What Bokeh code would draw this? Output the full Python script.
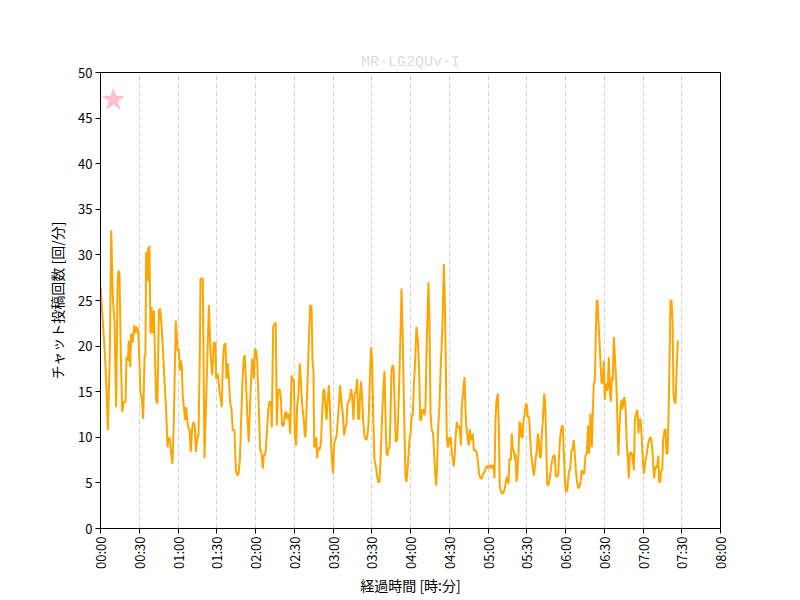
import math
from bokeh.plotting import figure
from bokeh.models import FixedTicker, Range1d
from bokeh.embed import file_html
from bokeh.resources import INLINE

# elapsed minutes and chat posts per minute
times = [
    0.0, 3.4, 4.4, 5.7, 7.2, 8.3, 9.5, 10.8, 12.1, 13.2, 13.9, 14.7, 15.7, 16.8, 18.1, 19.4,
    20.1, 21.2, 21.9, 23.0, 23.7, 25.0, 26.1, 27.1, 28.1, 29.2, 29.9, 31.0, 32.0, 33.0, 34.1,
    34.8, 35.3, 36.4, 36.9, 37.4, 37.9, 38.7, 39.5, 40.0, 41.3, 42.1, 43.1, 44.1, 45.2, 46.2,
    47.2, 48.5, 49.8, 50.8, 51.9, 52.6, 53.7, 54.7, 55.7, 56.8, 57.5, 58.3, 59.1, 59.6, 60.6,
    61.4, 62.2, 63.0, 63.7, 64.8, 65.5, 66.3, 67.1, 67.9, 68.9, 69.9, 71.0, 72.0, 73.0, 73.8,
    74.8, 75.9, 76.9,
    77.4, 79.2, 80.5, 82.1, 83.9, 85.2, 86.5, 87.2, 87.7, 89.0, 89.5, 90.3, 91.1, 92.1, 92.9,
    93.9, 94.7, 95.7, 96.8, 97.5, 98.6, 99.4, 100.4, 101.4, 102.4, 103.7, 104.8, 105.8, 106.8,
    107.9, 108.9, 109.9, 111.0, 111.7, 112.8, 113.8, 114.8, 116.1, 117.4, 117.9, 118.7, 119.5,
    120.5, 121.3, 122.6, 123.6, 124.6, 125.7, 126.4, 127.7, 129.0, 129.8, 130.8, 131.9, 132.6,
    133.7, 134.7, 135.7, 136.5, 137.5, 138.6, 139.6, 140.6, 141.9, 142.9, 143.7, 144.5, 145.3,
    146.1, 146.8, 147.9, 148.6, 149.7, 150.4, 151.5, 152.2, 153.3, 154.3, 155.1, 156.1, 157.4,
    158.2,
    158.7, 160.0, 161.3, 162.3, 163.4, 164.1, 164.9, 165.4, 166.2, 167.0, 167.7, 168.5, 169.3,
    170.1, 170.8, 171.6, 172.6, 173.4, 174.2, 175.0, 175.7, 176.8, 177.5, 178.6, 179.6, 180.1,
    180.9, 181.9, 183.0, 183.7, 184.8, 185.5, 186.6, 187.6, 188.6, 189.7, 190.4, 191.2, 192.3,
    193.0, 194.1, 194.8, 195.9, 196.6, 197.7, 198.7, 199.5, 200.3, 201.0, 201.8, 202.6, 203.3,
    204.4, 205.4, 206.4, 207.5, 208.5, 209.5, 210.3, 211.1, 212.1, 213.2, 214.2, 215.0, 216.0,
    217.0, 218.1, 219.1, 219.9, 220.6, 221.4, 222.2, 223.0, 223.8, 224.5, 225.3, 226.1, 226.9,
    227.6, 228.6, 229.7, 230.7, 231.7, 232.5, 233.0, 233.8, 234.6, 235.3, 236.1, 236.9, 237.7,
    238.5, 239.2,
    240.0, 240.8, 241.8, 242.6, 243.6, 244.6, 245.7, 246.7, 247.5, 248.3, 249.0, 250.1, 250.8,
    251.6, 252.4, 253.2, 253.9, 254.7, 255.5, 256.5, 257.5, 258.3, 259.1, 259.9, 260.6, 261.4,
    262.4, 263.2, 264.3, 265.0, 265.8, 266.6, 267.4, 268.1, 268.9, 269.7, 270.4, 271.2, 272.0,
    272.8, 273.5, 274.3, 275.1, 275.9, 276.6, 277.4, 278.2, 279.0, 279.7, 280.8, 281.8, 282.6,
    283.3, 284.4, 285.2, 285.9, 286.7, 287.5, 288.2, 289.0, 290.1, 291.1, 292.1, 293.1, 294.2,
    295.2, 296.2, 297.3, 298.3, 299.3, 300.1, 300.9, 301.9, 302.7, 303.5, 304.2, 305.0, 305.8,
    306.6, 307.6, 308.4, 309.1, 310.2, 311.2, 312.2, 313.3, 314.0, 314.8, 315.9, 316.6, 317.7,
    318.4, 319.2, 320.0, 320.8,
    321.3, 322.1, 322.8, 323.6, 324.4, 325.2, 325.9, 326.7, 327.5, 328.3, 329.3, 330.1, 330.8,
    331.9, 332.6, 333.4, 334.5, 335.5, 336.3, 337.0, 337.8, 338.6, 339.4, 340.1, 340.9, 341.7,
    342.5, 343.5, 344.3, 345.0, 345.8, 346.6, 347.6, 348.6, 349.7, 350.7, 351.7, 352.5, 353.3,
    354.3, 355.1, 355.9, 356.9, 357.9, 358.7, 359.7, 360.5, 361.3, 362.0, 362.8, 363.6, 364.6,
    365.4, 366.4, 367.2, 368.0, 368.8, 369.8, 370.8, 371.9, 372.6, 373.4, 374.4, 375.5, 376.5,
    377.5, 378.3, 379.3, 380.4, 381.1, 381.9, 382.7, 383.5, 384.2, 384.8, 385.5, 386.3, 387.1,
    387.9, 388.9, 389.7, 390.4, 391.2, 392.0, 392.8, 393.5, 394.3, 395.1, 395.9, 396.6, 397.4,
    399.5, 400.3, 401.0, 401.8, 402.6, 403.4, 404.1, 404.9, 405.7, 406.5, 407.2, 408.3, 409.0,
    409.8, 410.6, 411.4, 412.1, 412.9, 413.7, 414.7, 415.7, 416.5, 417.3, 418.1, 418.8, 419.6,
    420.6, 421.4, 422.2, 423.0, 424.0, 424.8, 425.5, 426.3, 427.1, 427.9, 428.7, 429.4, 430.2,
    431.0, 431.8, 432.5, 433.3, 434.1, 434.9, 435.6, 436.7, 437.4, 438.2, 439.0, 439.8, 440.6,
    441.3, 442.1, 442.9, 443.6, 444.4, 445.2, 446.0, 447.0,
]
counts = [
    26.5, 19.2, 16.2, 10.8, 19.2, 32.7, 25.4, 22.8, 13.3, 26.5, 28.3, 27.9, 19.2, 12.8, 13.9, 13.9,
    18.8, 18.4, 20.6, 17.7, 21.4, 20.4, 22.3, 21.4, 22.1, 21.7, 19.2, 14.8, 14.4, 12.0, 18.8,
    19.2, 30.3, 27.2, 30.8, 27.0, 31.0, 21.4, 24.3, 21.4, 23.9, 19.2, 14.1, 13.7, 23.9, 24.1,
    22.4, 19.2, 15.5, 13.0, 8.9, 10.0, 9.9, 8.2, 7.1, 11.9, 17.3, 22.8, 21.0, 19.5, 19.7,
    17.3, 18.4, 17.7, 14.4, 13.0, 11.9, 13.3, 11.9, 11.1, 10.8, 8.4, 11.1, 11.7, 11.1, 8.4,
    9.7, 10.4, 19.2,
    27.4, 27.4, 7.7, 15.5, 24.5, 19.2, 16.8, 18.4, 20.4, 20.3, 16.4, 17.0, 16.6, 15.1, 14.4,
    13.3, 18.1, 20.1, 20.3, 16.4, 18.1, 16.4, 13.7, 13.1, 10.8, 10.8, 6.4, 5.8, 6.0,
    7.5, 11.9, 16.2, 18.8, 19.0, 15.5, 11.9, 9.5, 14.8, 18.6, 18.4, 16.4, 19.7,
    19.5, 18.4, 13.0, 8.6, 8.4, 6.6, 8.0, 8.2, 10.8, 13.0, 13.9, 13.9, 11.1,
    22.1, 22.4, 22.6, 11.3, 15.1, 15.3, 14.4, 11.3, 11.3, 12.6, 12.8, 12.0, 12.6,
    12.2, 10.4, 16.8, 16.2, 16.4, 10.4, 9.1, 13.3, 14.8, 18.1, 16.2, 13.7, 11.9,
    10.2,
    10.0, 14.8, 20.6, 24.5, 24.3, 18.4, 17.3, 8.9, 9.1, 10.0, 7.7, 8.9, 8.6,
    8.9, 9.7, 12.6, 15.3, 15.1, 13.3, 11.9, 13.7, 15.7, 13.7, 8.9, 6.8, 6.0,
    9.3, 9.7, 10.4, 11.9, 14.1, 15.7, 13.7, 12.6, 10.2, 11.1, 11.5, 13.7, 13.9,
    14.4, 15.3, 14.4, 11.9, 14.8, 14.8, 16.4, 12.0, 12.0, 14.8, 16.1, 14.1, 11.9,
    10.2, 9.7, 9.9, 11.5, 16.2, 19.9, 18.4, 12.6, 7.5, 6.8, 5.7, 5.1, 5.1,
    8.2, 12.6, 15.5, 17.3, 12.6, 8.2, 8.0, 8.8, 8.9, 12.2, 17.3, 17.9, 17.7,
    14.4, 9.5, 9.7, 13.3, 18.4, 22.8, 26.3, 22.1, 16.2, 11.1, 5.7, 5.1, 6.4,
    8.2, 9.7,
    10.4, 12.2, 12.6, 15.5, 18.4, 22.1, 20.6, 17.3, 11.9, 11.9, 13.0, 13.0, 12.4,
    13.3, 19.2, 23.5, 27.0, 22.8, 12.6, 10.8, 10.4, 8.2, 6.0, 4.7, 6.8, 11.1,
    13.3, 17.0, 20.6, 23.9, 29.0, 24.6, 17.3, 10.0, 8.9, 10.0, 9.3, 10.0, 8.2,
    7.5, 6.8, 8.2, 10.4, 11.7, 11.1, 11.3, 10.9, 9.1, 13.3, 15.1, 16.6, 13.0,
    11.1, 9.7, 9.1, 10.9, 9.7, 10.0, 10.4, 8.6, 8.6, 8.4, 7.5, 6.0, 5.5,
    5.5, 6.0, 6.2, 6.6, 6.9, 6.6, 6.9, 6.9, 6.6, 6.9, 6.9, 5.5, 11.9,
    14.1, 14.8, 11.1, 4.6, 4.0, 3.8, 4.0, 4.6, 5.3, 5.7, 4.9, 7.7, 7.5,
    10.4, 8.6, 8.6, 7.5,
    8.2, 5.1, 6.0, 8.2, 11.7, 11.5, 10.0, 10.0, 11.9, 12.4, 13.7, 13.5, 12.2,
    12.2, 10.0, 8.2, 6.8, 5.8, 6.8, 7.8, 8.6, 10.4, 9.7, 7.8, 7.8, 10.4,
    11.9, 14.8, 13.7, 10.0, 4.9, 4.7, 5.3, 6.4, 7.5, 8.0, 8.0, 5.7, 5.7,
    5.8, 8.2, 10.0, 11.1, 11.3, 8.2, 4.9, 4.0, 4.2, 5.3, 6.4, 6.4, 8.6,
    8.6, 9.7, 8.2, 6.4, 5.3, 4.4, 4.6, 5.3, 6.4, 6.0, 6.0, 8.0, 8.2,
    11.3, 8.2, 12.6, 8.9, 12.6, 15.9, 16.2, 21.4, 25.0, 25.0, 22.8, 20.6, 18.1,
    15.9, 16.2, 18.4, 14.1, 15.9, 15.1, 15.5, 18.8, 15.1, 13.9, 16.6, 16.2, 21.0,
    15.5, 11.1, 8.0, 11.1, 13.3, 14.1, 13.1, 14.1, 14.4, 13.3, 10.0, 7.5, 5.5,
    8.2, 8.4, 8.2, 7.5, 6.4, 11.9, 12.6, 13.0, 10.4, 11.9, 12.0, 10.4, 8.2,
    6.0, 6.8, 7.7, 8.2, 9.3, 9.7, 10.0, 9.9, 8.9, 7.1, 5.5, 6.8, 6.6,
    6.8, 8.0, 5.1, 5.1, 6.4, 6.4, 9.7, 10.8, 10.9, 8.2, 8.2, 12.6, 19.2,
    25.0, 25.0, 22.8, 14.8, 13.9, 13.7, 17.3, 20.6,
]

tick_minutes = [0, 30, 60, 90, 120, 150, 180, 210, 240, 270, 300, 330, 360, 390, 420, 450, 480]
tick_labels = ["00:00", "00:30", "01:00", "01:30", "02:00", "02:30", "03:00", "03:30", "04:00",
               "04:30", "05:00", "05:30", "06:00", "06:30", "07:00", "07:30", "08:00"]
y_ticks = [0, 5, 10, 15, 20, 25, 30, 35, 40, 45, 50]

marker_time = [10]
marker_value = [47]

title_text = "MR-LG2QUv-I"
x_label = "経過時間 [時:分]"
y_label = "チャット投稿回数 [回/分]"

FONT = "Noto Sans CJK JP"

p = figure(width=800, height=600, output_backend="svg", toolbar_location=None,
           x_range=Range1d(0, 480), y_range=Range1d(0, 50),
           min_border_left=100, min_border_right=80, min_border_top=72, min_border_bottom=72)

p.title.text = title_text
p.title.align = "center"
p.title.text_color = "#dcdcdc"
p.title.text_font = "Liberation Mono"
p.title.text_font_size = "15px"
p.title.text_font_style = "normal"
p.title.standoff = 4

p.outline_line_color = "black"
p.outline_line_width = 1
p.background_fill_color = "white"
p.border_fill_color = "white"

xt = FixedTicker(ticks=tick_minutes)
p.xaxis.ticker = xt
p.xaxis.major_label_overrides = {m: lab for m, lab in zip(tick_minutes, tick_labels)}
p.xaxis.major_label_orientation = math.pi / 2
p.yaxis.ticker = FixedTicker(ticks=y_ticks)

for ax in (p.xaxis, p.yaxis):
    ax.axis_line_color = "black"
    ax.major_tick_line_color = "black"
    ax.major_tick_in = 0
    ax.major_tick_out = 5
    ax.minor_tick_line_color = None
    ax.major_label_text_font = FONT
    ax.major_label_text_font_size = "13px"
    ax.major_label_text_color = "black"
    ax.axis_label_text_font = FONT
    ax.axis_label_text_font_size = "14px"
    ax.axis_label_text_font_style = "normal"
    ax.axis_label_text_color = "black"
    ax.major_label_standoff = 3
    ax.axis_label_standoff = 3

p.yaxis.axis_label_standoff = 8

p.xaxis.axis_label = x_label
p.yaxis.axis_label = y_label

p.xgrid.ticker = xt
p.xgrid.grid_line_color = "#d3d3d3"
p.xgrid.grid_line_dash = "5 3"
p.xgrid.grid_line_width = 1
p.ygrid.grid_line_color = None

p.line(times, counts, line_color="orange", line_width=2)
p.scatter(marker_time, marker_value, marker="star", size=22,
          fill_color="pink", line_color="pink")

open("out.html", "w").write(file_html(p, INLINE))
